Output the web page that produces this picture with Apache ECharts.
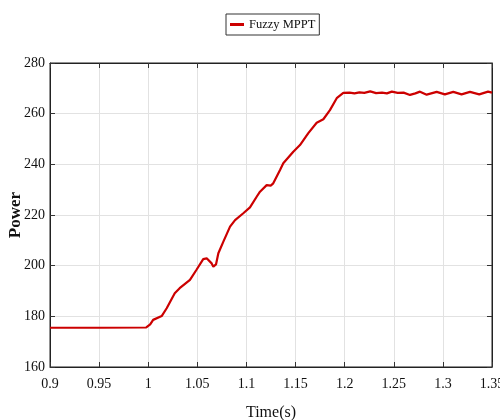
<!DOCTYPE html>
<html>
<head>
<meta charset="utf-8">
<script src="https://cdn.jsdelivr.net/npm/echarts@6/dist/echarts.min.js"></script>
<style>html,body{margin:0;padding:0;background:#fff}#c{width:500px;height:420px}</style>
</head>
<body>
<div id="c"></div>
<script>
var seriesName = 'Fuzzy MPPT';
var time = [0.9, 0.95, 0.998, 1.002, 1.005, 1.0137, 1.0188, 1.027, 1.032, 1.0425, 1.049, 1.056, 1.0595, 1.0646, 1.0663, 1.069, 1.0714, 1.0765, 1.0833, 1.0884, 1.0968, 1.1036, 1.1104, 1.1138, 1.1206, 1.1247, 1.1273, 1.1342, 1.1375, 1.1477, 1.1545, 1.163, 1.1715, 1.1783, 1.185, 1.1919, 1.1986,
  1.205, 1.21, 1.215, 1.22, 1.226, 1.232, 1.238, 1.243, 1.248, 1.254, 1.26, 1.2665, 1.272, 1.2767, 1.2835, 1.2937, 1.302, 1.3106, 1.319, 1.3276, 1.337, 1.346, 1.35];
var power = [175.5, 175.5, 175.6, 176.8, 178.6, 180.1, 183.2, 189.1, 191.1, 194.4, 198.3, 202.6, 202.9, 200.9, 199.6, 200.5, 204.9, 209.5, 215.4, 218.0, 220.7, 223.0, 227.2, 229.2, 231.8, 231.6, 232.5, 237.8, 240.4, 245.0, 247.6, 252.3, 256.4, 257.8, 261.4, 266.1, 268.2,
  268.3, 268.0, 268.4, 268.2, 268.8, 268.1, 268.3, 268.0, 268.7, 268.2, 268.3, 267.4, 268.0, 268.7, 267.5, 268.6, 267.6, 268.6, 267.6, 268.6, 267.6, 268.7, 268.3];
var xTicks = {min: 0.9, max: 1.35, step: 0.05};
var yTicks = {min: 160, max: 280, step: 20};

var data = time.map(function (t, i) { return [t, power[i]]; });
var font = 'Liberation Serif';
var chart = echarts.init(document.getElementById('c'));
chart.setOption({
  animation: false,
  backgroundColor: '#fff',
  grid: {left: 50, right: 8, top: 63, bottom: 53, outerBoundsMode: 'none', containLabel: false,
    show: true, borderColor: '#222', borderWidth: 1},
  legend: {
    data: [seriesName], left: 226, top: 14, padding: [4, 4], itemGap: 3,
    borderColor: '#333', borderWidth: 1, borderRadius: 0,
    itemWidth: 14, itemHeight: 3, icon: 'rect',
    textStyle: {fontFamily: font, fontSize: 12.5, color: '#111'}
  },
  xAxis: [{
    type: 'value', min: xTicks.min, max: xTicks.max, interval: xTicks.step,
    name: 'Time(s)', nameLocation: 'middle', nameGap: 38, nameMoveOverlap: false,
    nameTextStyle: {fontFamily: font, fontSize: 16, color: '#111'},
    axisLine: {lineStyle: {color: '#222'}},
    axisTick: {inside: true, length: 5, lineStyle: {color: '#333'}},
    axisLabel: {fontFamily: font, fontSize: 14, color: '#111', margin: 10,
      formatter: function (v) { return String(parseFloat(v.toFixed(2))); }},
    splitLine: {show: true, lineStyle: {color: '#e2e2e2', width: 1}}
  }, {
    type: 'value', position: 'top', min: xTicks.min, max: xTicks.max, interval: xTicks.step,
    axisLine: {show: true, lineStyle: {color: '#222'}},
    axisTick: {inside: true, length: 5, lineStyle: {color: '#333'}},
    axisLabel: {show: false}, splitLine: {show: false}
  }],
  yAxis: [{
    type: 'value', min: yTicks.min, max: yTicks.max, interval: yTicks.step,
    name: 'Power', nameLocation: 'middle', nameGap: 26, nameMoveOverlap: false,
    nameTextStyle: {fontFamily: font, fontSize: 17, fontWeight: 'bold', color: '#111'},
    axisLine: {show: true, lineStyle: {color: '#222'}},
    axisTick: {show: true, inside: true, length: 5, lineStyle: {color: '#333'}},
    axisLabel: {fontFamily: font, fontSize: 14, color: '#111', margin: 5},
    splitLine: {show: true, lineStyle: {color: '#e2e2e2', width: 1}}
  }, {
    type: 'value', position: 'right', min: yTicks.min, max: yTicks.max, interval: yTicks.step,
    axisLine: {show: true, lineStyle: {color: '#222'}},
    axisTick: {show: true, inside: true, length: 5, lineStyle: {color: '#333'}},
    axisLabel: {show: false}, splitLine: {show: false}
  }],
  series: [{
    name: seriesName, type: 'line', data: data, showSymbol: false, symbol: 'none',
    lineStyle: {color: '#cc0000', width: 2.2}, itemStyle: {color: '#cc0000'}
  }]
});
</script>
</body>
</html>
